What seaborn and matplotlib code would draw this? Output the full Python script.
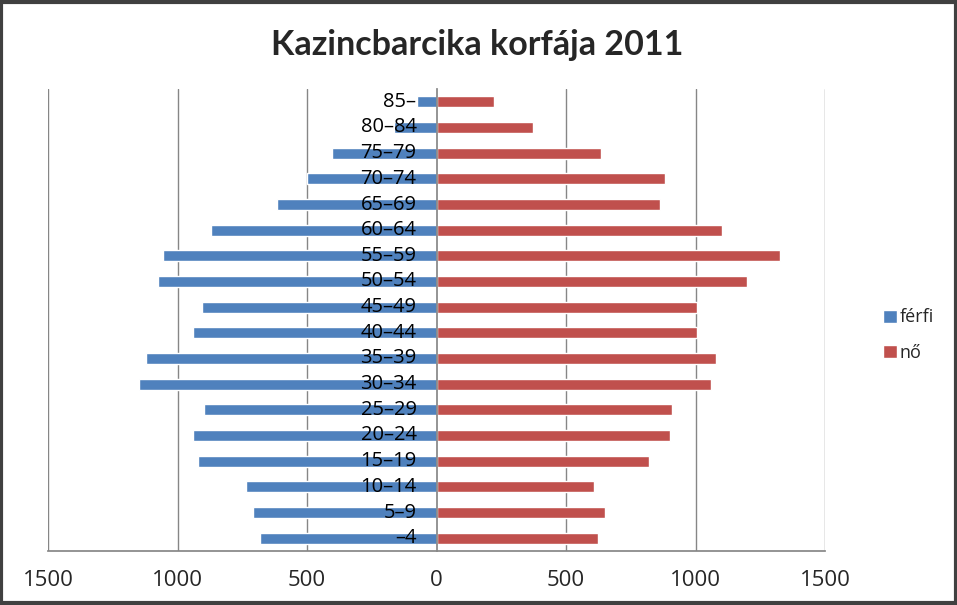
import matplotlib
matplotlib.use("Agg")
import matplotlib.pyplot as plt
import matplotlib.transforms as mtrans
from matplotlib.patches import Rectangle
import seaborn as sns
import pandas as pd
import numpy as np

age_groups = ["85–", "80–84", "75–79", "70–74", "65–69", "60–64", "55–59", "50–54",
              "45–49", "40–44", "35–39", "30–34", "25–29", "20–24", "15–19",
              "10–14", "5–9", "–4"]
male = [77, 165, 403, 501, 616, 871, 1056, 1076, 906, 940, 1122, 1149, 898, 940,
        921, 735, 708, 681]
female = [223, 374, 636, 884, 864, 1104, 1328, 1200, 1007, 1007, 1081, 1058, 911,
          903, 822, 609, 652, 625]
x_ticks = [-1500, -1000, -500, 0, 500, 1000, 1500]
x_tick_labels = ["1500", "1000", "500", "0", "500", "1000", "1500"]
series_names = ["férfi", "nő"]
title = "Kazincbarcika korfája 2011"

sns.set_theme(style="white")
plt.rcParams["font.family"] = ["Open Sans", "DejaVu Sans"]

df_m = pd.DataFrame({"age": age_groups, "value": [-v for v in male]})
df_f = pd.DataFrame({"age": age_groups, "value": female})

fig = plt.figure(figsize=(9.57, 6.05), dpi=100)
ax = fig.add_axes([48 / 957, 1 - 551 / 605, (825 - 48) / 957, (551 - 89) / 605])

sns.barplot(data=df_m, x="value", y="age", order=age_groups, orient="h",
            color="#4F81BD", saturation=1, width=0.42, ax=ax, label=series_names[0],
            zorder=2)
sns.barplot(data=df_f, x="value", y="age", order=age_groups, orient="h",
            color="#C0504D", saturation=1, width=0.42, ax=ax, label=series_names[1],
            zorder=2)

ax.set_xlim(-1500, 1500)
ax.set_ylim(len(age_groups) - 0.5, -0.5)
ax.set_xlabel("")
ax.set_ylabel("")
ax.set_xticks(x_ticks)
ax.set_xticklabels(x_tick_labels, fontsize=16)
ax.tick_params(axis="x", length=6, width=1, color="#868686", direction="out", pad=8)

for xv in x_ticks:
    if xv != 0:
        ax.axvline(xv, color="#868686", lw=1, zorder=0)

for s in ["top", "right"]:
    ax.spines[s].set_visible(False)
ax.spines["bottom"].set_color("#868686")
ax.spines["left"].set_position(("data", 0))
ax.spines["left"].set_color("#868686")
ax.spines["left"].set_zorder(3)

ax.set_yticks(np.arange(len(age_groups)))
ax.set_yticklabels([])
ax.tick_params(axis="y", which="major", length=0)
ax.set_yticks(np.arange(len(age_groups) + 1) - 0.5, minor=True)
ax.tick_params(axis="y", which="minor", length=7, width=1, direction="inout",
               color="#868686")

trans = mtrans.offset_copy(ax.transData, fig=fig, x=-20, y=0, units="dots")
for i, lab in enumerate(age_groups):
    ax.text(0, i, lab, transform=trans, ha="right", va="center", fontsize=14.5,
            color="black", zorder=5)

ax.legend(loc="center left", bbox_to_anchor=(883 / 957, 1 - 335 / 605),
          bbox_transform=fig.transFigure, frameon=False, fontsize=13, borderpad=0,
          borderaxespad=0, handlelength=0.75, handleheight=0.75, handletextpad=0.15,
          labelspacing=0.95)

fig.text(477 / 957, 1 - 45 / 605, title, ha="center", va="center", fontsize=24.5,
         fontweight="bold", family=["Lato", "DejaVu Sans"])

fig.patches.append(Rectangle((0.0015, 0.0025), 0.997, 0.995, transform=fig.transFigure,
                             fill=False, edgecolor="#404040", lw=3))

fig.savefig("out.png", dpi=100)
